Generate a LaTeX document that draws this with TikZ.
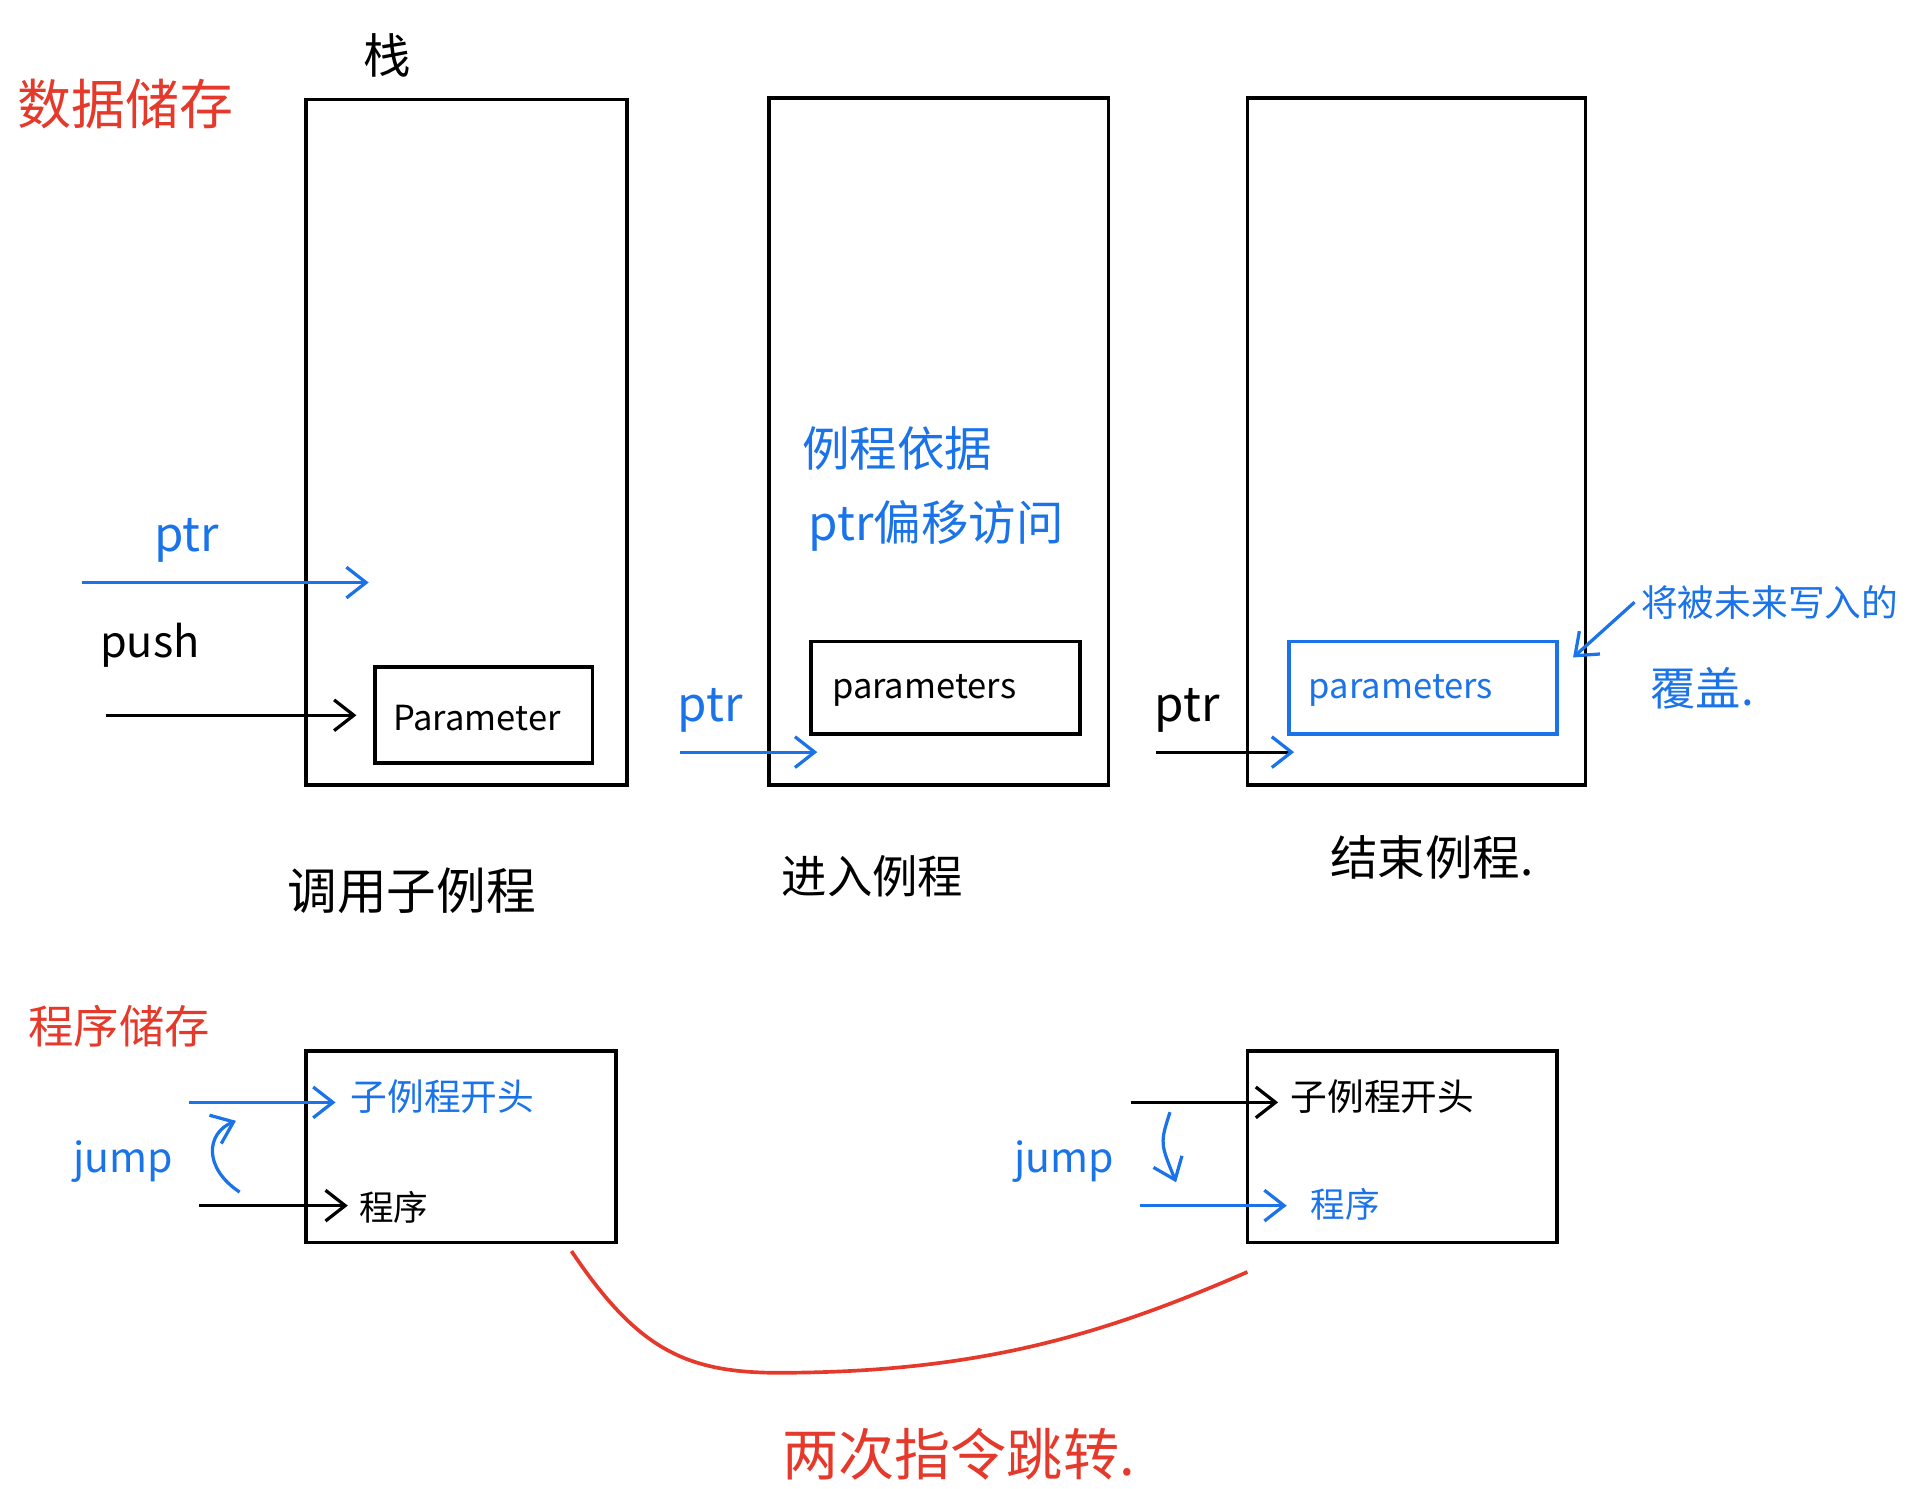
\documentclass[tikz,border=0pt]{standalone}
\usepackage{fontspec}
\setmainfont{Noto Sans CJK SC}
\usetikzlibrary{arrows.meta,fit}
\definecolor{pblue}{HTML}{1A73E8}
\definecolor{pred}{HTML}{E53A2B}
\newcommand{\fs}[1]{\fontsize{#1}{#1}\selectfont}
\begin{document}
\begin{tikzpicture}[x=0.2mm,y=-0.2mm,
  box/.style={draw, line width=1.7pt, inner sep=0pt},
  conn/.style={line width=1.5pt, -{Straight Barb[length=3.2mm,width=5mm,line width=1.5pt]}},
  bluec/.style={conn, pblue},
  txt/.style={inner sep=0pt, anchor=center}]
\useasboundingbox (0,0) rectangle (1568,1211);

% titles
\node[txt, pred, font=\fs{25}] (t1) at (102,85) {数据储存};
\node[txt, font=\fs{22}] (zhan) at (315,45) {栈};
\node[txt, pred, font=\fs{21}] (t2) at (97,835) {程序储存};

% stack boxes
\node[box, fit={(249,81)(510,639)}] (s1) {};
\node[box, fit={(626,80)(902,639)}] (s2) {};
\node[box, fit={(1015,80)(1290,639)}] (s3) {};

% parameter boxes
\node[box, fit={(305,543)(482,621)}] (p1) {};
\node[txt, font=\fs{16}] (p1t) at (388,584) {Parameter};
\node[box, fit={(660,522)(879,597)}] (p2) {};
\node[txt, font=\fs{16}] (p2t) at (752,562) {parameters};
\node[box, draw=pblue, fit={(1049,522)(1267,597)}] (p3) {};
\node[txt, pblue, font=\fs{16}] (p3t) at (1140,562) {parameters};

% stack 1 arrows
\node[txt, pblue, font=\fs{22}] (ptr1) at (152,440) {ptr};
\coordinate (ptr1s) at (67,474);
\coordinate (ptr1e) at (300,474);
\draw[bluec] (ptr1s) -- (ptr1e);
\node[txt, font=\fs{20}] (push) at (122,525) {push};
\coordinate (push s) at (86,582);
\coordinate (push e) at (290,582);
\draw[conn] (push s) -- (push e);

% stack 2
\node[txt, pblue, font=\fs{22}] (n2a) at (730,365) {例程依据};
\node[txt, pblue, font=\fs{22}] (n2b) at (762,428) {ptr偏移访问};
\node[txt, pblue, font=\fs{22}] (ptr2) at (578,578) {ptr};
\coordinate (ptr2s) at (553,612);
\coordinate (ptr2e) at (665,612);
\draw[bluec] (ptr2s) -- (ptr2e);

% stack 3
\node[txt, font=\fs{22}] (ptr3) at (966,578) {ptr};
\coordinate (ptr3s) at (941,612);
\coordinate (ptr3e) at (1053,612);
\draw[line width=1.5pt, -{Straight Barb[length=3.2mm,width=5mm,line width=1.5pt,pblue]}] (ptr3s) -- (ptr3e);
\node[txt, pblue, font=\fs{17}] (n3a) at (1440,490) {将被未来写入的};
\node[txt, pblue, font=\fs{21}] (n3b) at (1385,560) {覆盖.};
\coordinate (n3s) at (1330,490);
\coordinate (n3e) at (1280,535);
\draw[bluec] (n3s) -- (n3e);

% captions
\node[txt, font=\fs{23}] (c1) at (335,725) {调用子例程};
\node[txt, font=\fs{21}] (c2) at (710,713) {进入例程};
\node[txt, font=\fs{22}] (c3) at (1165,698) {结束例程.};

% program boxes
\node[box, fit={(249,855)(501,1011)}] (q1) {};
\node[box, fit={(1015,855)(1267,1011)}] (q2) {};

% program box 1
\coordinate (a1s) at (154,897);
\coordinate (a1e) at (273,897);
\draw[bluec] (a1s) -- (a1e);
\node[txt, pblue, font=\fs{17}, anchor=west] (q1a) at (285,892) {子例程开头};
\coordinate (b1s) at (162,981);
\coordinate (b1e) at (283,981);
\draw[conn] (b1s) -- (b1e);
\node[txt, font=\fs{16}, anchor=west] (q1b) at (292,982) {程序};
\node[txt, pblue, font=\fs{19}] (j1) at (100,945) {jump};
\coordinate (j1s) at (195,970);
\coordinate (j1e) at (192,912);
\draw[bluec] (j1s) .. controls (165,950) and (168,922) .. (j1e);

% program box 2
\coordinate (a2s) at (920,897);
\coordinate (a2e) at (1040,897);
\draw[conn] (a2s) -- (a2e);
\node[txt, font=\fs{17}, anchor=west] (q2a) at (1050,892) {子例程开头};
\coordinate (b2s) at (928,981);
\coordinate (b2e) at (1047,981);
\draw[bluec] (b2s) -- (b2e);
\node[txt, pblue, font=\fs{16}, anchor=west] (q2b) at (1066,980) {程序};
\node[txt, pblue, font=\fs{19}] (j2) at (866,945) {jump};
\coordinate (j2s) at (952,905);
\coordinate (j2e) at (957,962);
\draw[bluec] (j2s) .. controls (944,930) .. (j2e);

% red jump curve
\coordinate (r1) at (465,1018);
\coordinate (r2) at (1015,1035);
\draw[pred, line width=1.7pt] (r1) .. controls (520,1100) and (560,1118) .. (640,1117)
  .. controls (800,1116) and (900,1085) .. (r2);
\node[txt, pred, font=\fs{26}] (t3) at (780,1183) {两次指令跳转.};
\end{tikzpicture}
\end{document}
